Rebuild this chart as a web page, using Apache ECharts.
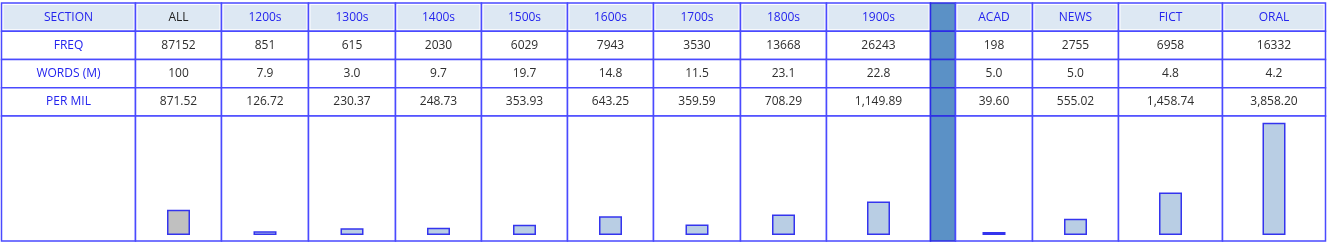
<!DOCTYPE html>
<html>
<head>
<meta charset="utf-8">
<script src="https://cdn.jsdelivr.net/npm/echarts@6/dist/echarts.min.js"></script>
<style>
html,body{margin:0;padding:0;background:#fff;}
#chart{width:1328px;height:244px;}
</style>
</head>
<body>
<div id="chart"></div>
<script>
// ---- data ----
var sections = ['ALL','1200s','1300s','1400s','1500s','1600s','1700s','1800s','1900s','ACAD','NEWS','FICT','ORAL'];
var freq     = [87152, 851, 615, 2030, 6029, 7943, 3530, 13668, 26243, 198, 2755, 6958, 16332];
var words    = [100, 7.9, 3.0, 9.7, 19.7, 14.8, 11.5, 23.1, 22.8, 5.0, 5.0, 4.8, 4.2];
var perMil   = [871.52, 126.72, 230.37, 248.73, 353.93, 643.25, 359.59, 708.29, 1149.89, 39.60, 555.02, 1458.74, 3858.20];
var rowLabels = ['SECTION','FREQ','WORDS (M)','PER MIL'];

// ---- layout (px widths) ----
var labelWidth = 134;
var colWidths = [86, 87, 87, 86, 86, 86, 87, 86, 104, 77, 86, 104, 103];
var sepAfter = 8;      // separator column after '1900s'
var sepWidth = 25;

// build column list
var cols = [];
var x = 0;
cols.push({kind:'label', x0:x, x1:x+labelWidth}); x += labelWidth;
for (var i = 0; i < sections.length; i++) {
  cols.push({kind:'data', idx:i, x0:x, x1:x+colWidths[i]}); x += colWidths[i];
  if (i === sepAfter) { cols.push({kind:'sep', x0:x, x1:x+sepWidth}); x += sepWidth; }
}
var totalW = x;

function fmtWords(v){ return v >= 100 ? String(v) : v.toFixed(1); }
function fmtPM(v){ return v.toLocaleString('en-US',{minimumFractionDigits:2, maximumFractionDigits:2}); }

var LINE = '#4a4aff';
var BLUE_TXT = '#2424ee';
var VAL_TXT = '#2e2e2e';
var HEAD_BG = '#dde8f3';
var SEP_BG = '#5b91c6';
var FONT = '12px "Open Sans", "Noto Sans", sans-serif';

// table cells
var cellData = [];
cols.forEach(function(c, ci){
  for (var r = 0; r < 4; r++) cellData.push([c.x0, c.x1, r, ci]);
});
function cellText(c, r){
  if (c.kind === 'sep') return {t:'', col:VAL_TXT};
  if (c.kind === 'label') return {t:rowLabels[r], col:BLUE_TXT};
  var i = c.idx;
  if (r === 0) return {t:sections[i], col: i === 0 ? '#222222' : BLUE_TXT};
  if (r === 1) return {t:String(freq[i]), col:VAL_TXT};
  if (r === 2) return {t:fmtWords(words[i]), col:VAL_TXT};
  return {t:fmtPM(perMil[i]), col:VAL_TXT};
}

// frames for chart row
var frameData = cols.map(function(c, ci){ return [c.x0, c.x1, ci]; });

// bars
var barData = [];
cols.forEach(function(c){
  if (c.kind === 'data') {
    var i = c.idx;
    barData.push({
      value: [(c.x0 + c.x1) / 2, perMil[i]],
      itemStyle: { color: i === 0 ? '#c0c0c0' : '#b9cee4' }
    });
  }
});

var chart = echarts.init(document.getElementById('chart'), null, {renderer:'canvas'});
chart.setOption({
  animation: false,
  backgroundColor: '#ffffff',
  grid: [
    {left: 1.5, top: 3, width: totalW, height: 113, containLabel: false},
    {left: 1.5, top: 116, width: totalW, height: 119, containLabel: false}
  ],
  xAxis: [
    {gridIndex:0, type:'value', min:0, max:totalW, show:false},
    {gridIndex:1, type:'value', min:0, max:totalW, show:false}
  ],
  yAxis: [
    {gridIndex:0, type:'category', data: rowLabels, inverse:true, show:false},
    {gridIndex:1, type:'value', min:0, max:4090, show:false}
  ],
  series: [
    {
      type:'custom', xAxisIndex:0, yAxisIndex:0, z:1,
      data: cellData,
      encode: {x:[0,1], y:2},
      renderItem: function(params, api){
        var x0 = api.value(0), x1 = api.value(1), r = api.value(2), ci = api.value(3);
        var p0 = api.coord([x0, r]), p1 = api.coord([x1, r]);
        var h = api.size([0, 1])[1];
        var top = p0[1] - h/2;
        var c = cols[ci];
        var children = [];
        var fill = '#ffffff';
        if (c.kind === 'sep') fill = SEP_BG;
        children.push({type:'rect', shape:{x:p0[0], y:top, width:p1[0]-p0[0], height:h},
          style:{fill: fill, stroke: c.kind === 'sep' ? '#2b2be6' : LINE, lineWidth:1.5}});
        if (r === 0 && c.kind !== 'sep') {
          children.push({type:'rect', shape:{x:p0[0]+2, y:top+2, width:p1[0]-p0[0]-4, height:h-4},
            style:{fill: HEAD_BG}});
        }
        var tx = cellText(c, r);
        if (tx.t) {
          children.push({type:'text', style:{
            text: tx.t, x:(p0[0]+p1[0])/2, y: top + h/2,
            align:'center', verticalAlign:'middle', textAlign:'center', textVerticalAlign:'middle',
            fill: tx.col, font: FONT
          }});
        }
        return {type:'group', children: children};
      }
    },
    {
      type:'custom', xAxisIndex:1, yAxisIndex:1, z:1,
      data: frameData,
      encode: {x:[0,1]},
      renderItem: function(params, api){
        var x0 = api.value(0), x1 = api.value(1), ci = api.value(2);
        var cs = params.coordSys;
        var p0 = api.coord([x0, 0]), p1 = api.coord([x1, 0]);
        var c = cols[ci];
        return {type:'rect', shape:{x:p0[0], y:cs.y, width:p1[0]-p0[0], height:cs.height + 6},
          style:{fill: c.kind === 'sep' ? SEP_BG : '#ffffff', stroke: c.kind === 'sep' ? '#2b2be6' : LINE, lineWidth:1.5}};
      }
    },
    {
      type:'bar', xAxisIndex:1, yAxisIndex:1, z:3,
      barWidth: 23, barMinHeight: 3,
      data: barData,
      itemStyle: {borderColor:'#3434ee', borderWidth:1.5}
    }
  ]
});
</script>
</body>
</html>
